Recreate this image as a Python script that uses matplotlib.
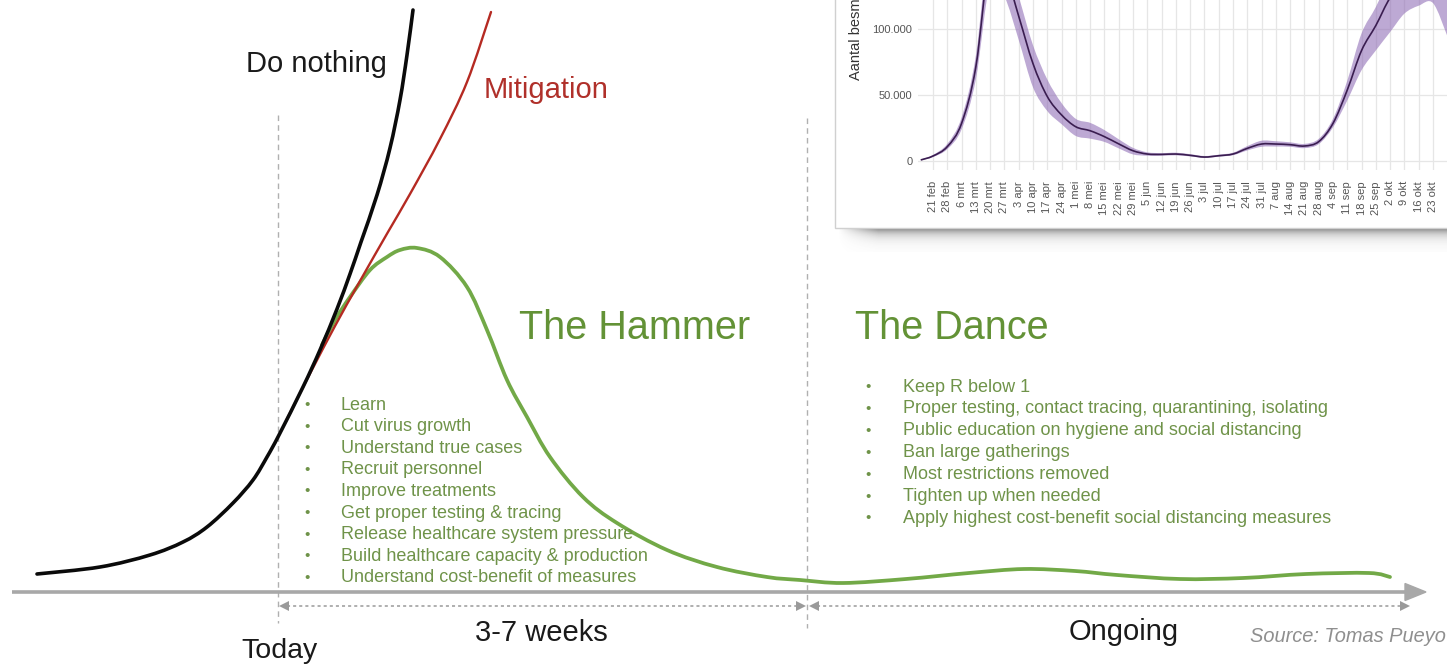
import matplotlib
matplotlib.use("Agg")
import matplotlib.pyplot as plt
from matplotlib.patches import Rectangle, Polygon, PathPatch
from matplotlib.path import Path
import numpy as np

W, H = 1447, 667
FONT = "Liberation Sans"

# ---------------- main scenario curves (time, cases: arbitrary units) ----------------
do_nothing_t = [37, 100, 150, 183, 207, 233, 253, 267, 279, 303, 320, 337, 350, 361, 377, 390, 400, 407, 413]
do_nothing_y = [18, 25, 37, 50, 65, 89, 112, 135, 157, 205, 242, 283, 318, 350, 397, 444, 492, 537, 582]

mitigation_t = [286, 300, 315, 335, 360, 388, 410, 440, 467, 491]
mitigation_y = [171, 199, 228, 266, 311, 360, 398, 453, 510, 580]

hammer_t = [322, 335, 350, 370, 387, 400, 417, 440, 467, 487, 507, 527, 550, 583, 617, 667, 717, 767, 800,
            843, 906, 969, 1024, 1075, 1117, 1180, 1243, 1306, 1369, 1390]
hammer_y = [247, 272, 295, 322, 335, 342, 344, 335, 305, 262, 212, 175, 135, 95, 69, 42, 25, 15, 12,
            9, 13, 19, 23, 21, 17, 13, 14, 18, 19, 15]

hammer_items = ["Learn", "Cut virus growth", "Understand true cases", "Recruit personnel",
                "Improve treatments", "Get proper testing & tracing",
                "Release healthcare system pressure", "Build healthcare capacity & production",
                "Understand cost-benefit of measures"]
dance_items = ["Keep R below 1", "Proper testing, contact tracing, quarantining, isolating",
               "Public education on hygiene and social distancing", "Ban large gatherings",
               "Most restrictions removed", "Tighten up when needed",
               "Apply highest cost-benefit social distancing measures"]

# ---------------- inset: Dutch estimate of infectious people ----------------
inset_days = [-6, 0, 7, 14, 21, 28, 35, 42, 49, 56, 63, 70, 77, 84, 91, 98, 105, 112, 119, 126, 133,
              140, 147, 154, 161, 168, 175, 182, 189, 196, 203, 210, 217, 224, 231, 238, 245, 252]
inset_mid = [0.8, 3.8, 10.9, 28.6, 71.6, 155, 145, 110, 74, 49, 35, 26, 23, 18.5, 13, 7.8, 5.3, 5.0, 5.3,
             4.3, 3.0, 4.0, 5.3, 9.6, 12.9, 12.9, 12.4, 11.4, 14.7, 28.6, 54, 84, 103, 124, 135, 140, 138, 125]
inset_low = [0.5, 3.0, 9.0, 24, 62, 135, 125, 92, 56, 38, 28, 19, 17, 14.5, 9.6, 5.0, 4.0, 4.0, 4.3,
             3.5, 2.4, 3.3, 4.4, 8.0, 10.8, 11.0, 10.8, 9.8, 12.8, 25.5, 46, 69, 84, 98, 112, 118, 120, 95]
inset_high = [1.1, 4.6, 13, 33, 80, 170, 160, 125, 88, 62, 44, 32, 29, 23.5, 16.5, 10, 6.6, 6.0, 6.3,
              5.2, 3.8, 4.8, 6.3, 11.3, 15.4, 15.0, 14.2, 13.0, 16.8, 32, 61, 97, 117, 140, 155, 160, 158, 150]
inset_ticks = ["21 feb", "28 feb", "6 mrt", "13 mrt", "20 mrt", "27 mrt", "3 apr", "10 apr", "17 apr",
               "24 apr", "1 mei", "8 mei", "15 mei", "22 mei", "29 mei", "5 jun", "12 jun", "19 jun",
               "26 jun", "3 jul", "10 jul", "17 jul", "24 jul", "31 jul", "7 aug", "14 aug", "21 aug",
               "28 aug", "4 sep", "11 sep", "18 sep", "25 sep", "2 okt", "9 okt", "16 okt", "23 okt"]
inset_yticks = [0, 50000, 100000]
inset_yticklabels = ["0", "50.000", "100.000"]


def smooth_segments(x, y):
    """Catmull-Rom through the given points, expressed as cubic Bezier path pieces."""
    P = np.column_stack([x, y]).astype(float)
    ext = np.vstack([P[0], P, P[-1]])
    verts, codes = [P[0]], [Path.MOVETO]
    for i in range(len(P) - 1):
        p0, p1, p2, p3 = ext[i], ext[i + 1], ext[i + 2], ext[i + 3]
        verts += [p1 + (p2 - p0) / 6.0, p2 - (p3 - p1) / 6.0, p2]
        codes += [Path.CURVE4] * 3
    return verts, codes


def smooth_line(axis, x, y, **kw):
    v, c = smooth_segments(x, y)
    axis.add_patch(PathPatch(Path(v, c), fill=False, **kw))


def smooth_band(axis, x, lo, hi, **kw):
    vu, cu = smooth_segments(x, hi)
    vl, cl = smooth_segments(x[::-1], lo[::-1])
    cl = [Path.LINETO] + cl[1:]
    v = vu + vl + [vu[0]]
    c = cu + cl + [Path.CLOSEPOLY]
    axis.add_patch(PathPatch(Path(v, c), **kw))


# ======================================================================
fig = plt.figure(figsize=(W / 100, H / 100), dpi=100)
fig.patch.set_facecolor("white")

ax = fig.add_axes([0, 0, 1, 1])
ax.set_xlim(0, W)
ax.set_ylim(-75, 592)
ax.axis("off")


def py(p):  # pixel row -> main axes y
    return 592 - p


# time axis with arrow
axis_col = "#a8a8a8"
ax.plot([12, 1410], [0, 0], color=axis_col, lw=2.6, solid_capstyle="butt", zorder=2)
ax.add_patch(Polygon([[1405, 8.5], [1426, 0], [1405, -8.5]], closed=True, color=axis_col, zorder=2))

# dashed vertical guides
for xv, top, bot in [(278, 115, 623), (807, 118, 628)]:
    ax.plot([xv, xv], [py(top), py(bot)], color="#b0b0b0", lw=1.0, ls=(0, (4, 3)), zorder=1)

# dotted duration arrows
arr_col = "#9a9a9a"
yy = py(606)
for x0, x1 in [(281, 804), (811, 1408)]:
    ax.plot([x0 + 6, x1 - 6], [yy, yy], color=arr_col, lw=1.1, ls=(0, (2, 2)), zorder=2)
    ax.plot([x0 + 3], [yy], marker="<", color=arr_col, ms=7, mew=0, zorder=2)
    ax.plot([x1 - 3], [yy], marker=">", color=arr_col, ms=7, mew=0, zorder=2)

# curves
green = "#72a947"
smooth_line(ax, hammer_t, hammer_y, edgecolor=green, lw=2.7, capstyle="round", joinstyle="round", zorder=3)
smooth_line(ax, mitigation_t, mitigation_y, edgecolor="#b52a22", lw=1.7, capstyle="round", joinstyle="round", zorder=4)
smooth_line(ax, do_nothing_t, do_nothing_y, edgecolor="#0a0a0a", lw=2.6, capstyle="round", joinstyle="round", zorder=5)

# labels
ax.text(246, py(64), "Do nothing", fontsize=21, family=FONT, color="#1a1a1a", va="center", ha="left")
ax.text(484, py(90), "Mitigation", fontsize=21, family=FONT, color="#b0302a", va="center", ha="left")
title_col = "#639236"
ax.text(519, py(328), "The Hammer", fontsize=28.5, family=FONT, color=title_col, va="center", ha="left")
ax.text(855, py(328), "The Dance", fontsize=28.5, family=FONT, color=title_col, va="center", ha="left")

item_col = "#6f9349"
for i, s in enumerate(hammer_items):
    y = py(405 + 21.6 * i)
    ax.text(307, y, "\u2022", fontsize=11, family=FONT, color=item_col, va="center", ha="center")
    ax.text(341, y, s, fontsize=13, family=FONT, color=item_col, va="center", ha="left")
for i, s in enumerate(dance_items):
    y = py(387 + 21.9 * i)
    ax.text(868, y, "\u2022", fontsize=11, family=FONT, color=item_col, va="center", ha="center")
    ax.text(903, y, s, fontsize=13, family=FONT, color=item_col, va="center", ha="left")

ax.text(280, py(651), "Today", fontsize=20.5, family=FONT, color="#1a1a1a", va="center", ha="center")
ax.text(541, py(633), "3-7 weeks", fontsize=21, family=FONT, color="#1a1a1a", va="center", ha="center")
ax.text(1124, py(632), "Ongoing", fontsize=21, family=FONT, color="#1a1a1a", va="center", ha="center")
ax.text(1250, py(637), "Source: Tomas Pueyo", fontsize=14.4, family=FONT, style="italic",
        color="#8f8f8f", va="center", ha="left")

# inset card + shadow
card_left, card_bottom = 835, 228
ax.add_patch(Rectangle((card_left, py(card_bottom)), W - card_left + 5, card_bottom + 5,
                       facecolor="white", edgecolor="#d0d0d0", lw=1.0, zorder=6))
sh_rows = 24
yy_s = np.arange(sh_rows)[:, None]
xx_s = np.arange(card_left, W)[None, :]
alpha = 0.85 * np.exp(-yy_s / 6.0) * np.clip((xx_s - 838) / 40.0, 0, 1)
shadow = np.zeros((sh_rows, W - card_left, 4))
shadow[..., :3] = 0.42
shadow[..., 3] = alpha
ax.imshow(shadow, extent=(card_left, W, py(card_bottom + sh_rows), py(card_bottom)),
          origin="upper", aspect="auto", interpolation="bilinear", zorder=5.5)

# inset axes
px_left, px_right, px_bottom, px_top = 918, 1465, 170, -60
iax = fig.add_axes([px_left / W, (H - px_bottom) / H, (px_right - px_left) / W, (px_bottom - px_top) / H])
iax.set_zorder(10)
iax.patch.set_alpha(0)
week_px = 500 / 35
iax.set_xlim((px_left - 933) / week_px * 7, (px_right - 933) / week_px * 7)
per_px = 50000 / 65.8
iax.set_ylim(-(px_bottom - 161) * per_px, (161 - px_top) * per_px)
for s in iax.spines.values():
    s.set_visible(False)
tick_days = [7 * i for i in range(len(inset_ticks))]
iax.set_xticks(tick_days)
iax.set_xticklabels(inset_ticks, rotation=90, fontsize=8, color="#555555", family=FONT)
iax.set_yticks(inset_yticks)
iax.set_yticklabels(inset_yticklabels, fontsize=8, color="#555555", family=FONT)
iax.tick_params(length=0, axis="x", pad=8)
iax.tick_params(length=0, axis="y", pad=4)
iax.grid(True, color="#e6e6e6", lw=0.9)
iax.set_axisbelow(True)
days = np.array(inset_days, dtype=float)
smooth_band(iax, days, np.array(inset_low) * 1000, np.array(inset_high) * 1000,
            facecolor="#8e6bb5", alpha=0.58, lw=0)
smooth_line(iax, days, np.array(inset_mid) * 1000, edgecolor="#3a1d50", lw=1.2)

fig.text(856 / W, (H - 80) / H, "Aantal besm", rotation=90, fontsize=10.5,
         family=FONT, color="#333333", ha="center", va="bottom", zorder=11)

fig.savefig("out.png", dpi=100)
